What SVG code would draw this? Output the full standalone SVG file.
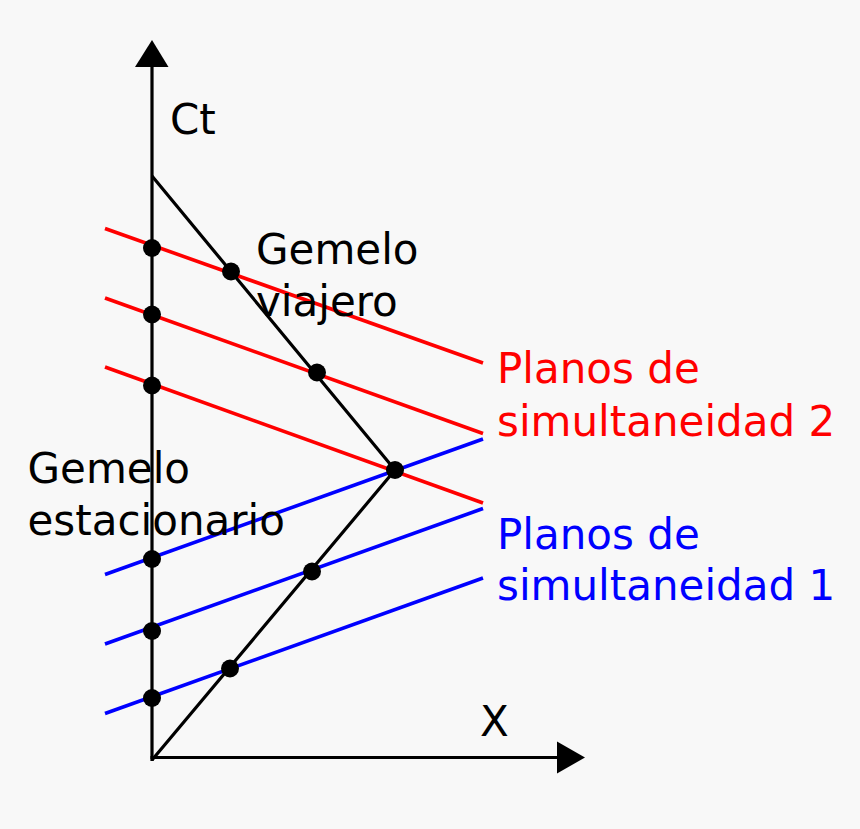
<svg xmlns="http://www.w3.org/2000/svg" width="860" height="829" viewBox="0 0 860 829">
<style>
.ax{stroke:#000;stroke-width:3.2;fill:none}
.wl{stroke:#000;stroke-width:3.2;fill:none;stroke-linejoin:miter}
.red{stroke:#ff0000;stroke-width:3.6}
.blue{stroke:#0000ff;stroke-width:3.6}
.dot{fill:#000}
text{font-family:"DejaVu Sans","Liberation Sans",sans-serif;font-size:42px}
.k{fill:#000}
.r{fill:#ff0000}
.b{fill:#0000ff}
</style>
<rect width="860" height="829" fill="#f8f8f8"/>
<g id="connectors">
<g id="axes">
<line class="ax" x1="152" y1="761" x2="152" y2="64"/>
<polygon points="152,40 135,67 168.5,67" fill="#000"/>
<line class="ax" x1="150.5" y1="757.5" x2="560" y2="757.5"/>
<polygon points="585,757.5 557,741.5 557,773.5" fill="#000"/>
</g>
<g id="simultaneidad-2">
<line class="red" x1="105" y1="228.5" x2="483" y2="363"/>
<line class="red" x1="105" y1="298" x2="483" y2="433.5"/>
<line class="red" x1="105" y1="367" x2="483" y2="503"/>
</g>
<g id="simultaneidad-1">
<line class="blue" x1="105" y1="574.5" x2="483" y2="439"/>
<line class="blue" x1="105" y1="644" x2="483" y2="508.5"/>
<line class="blue" x1="105" y1="713.5" x2="483" y2="578"/>
</g>
<g id="worldline">
<polyline class="wl" points="152,176 395,470 152,760"/>
</g>
</g>
<g id="events">
<circle class="dot" cx="152" cy="248" r="9"/>
<circle class="dot" cx="152" cy="314.5" r="9"/>
<circle class="dot" cx="152" cy="385.5" r="9"/>
<circle class="dot" cx="152" cy="559" r="9"/>
<circle class="dot" cx="152" cy="631" r="9"/>
<circle class="dot" cx="152" cy="698" r="9"/>
<circle class="dot" cx="231" cy="271.5" r="9"/>
<circle class="dot" cx="317" cy="372.5" r="9"/>
<circle class="dot" cx="395" cy="470" r="9"/>
<circle class="dot" cx="312" cy="571.5" r="9"/>
<circle class="dot" cx="230" cy="668.5" r="9"/>
</g>
<g id="label-ct"><text class="k" x="170" y="134">Ct</text></g>
<g id="label-x"><text class="k" x="480" y="736">X</text></g>
<g id="label-viajero"><text class="k" x="256" y="264">Gemelo</text><text class="k" x="256" y="316">viajero</text></g>
<g id="label-estacionario"><text class="k" x="27.5" y="483">Gemelo</text><text class="k" x="27.5" y="535">estacionario</text></g>
<g id="label-planos-2"><text class="r" x="497" y="383">Planos de</text><text class="r" x="497" y="436">simultaneidad 2</text></g>
<g id="label-planos-1"><text class="b" x="497" y="549">Planos de</text><text class="b" x="497" y="600">simultaneidad 1</text></g>
</svg>
